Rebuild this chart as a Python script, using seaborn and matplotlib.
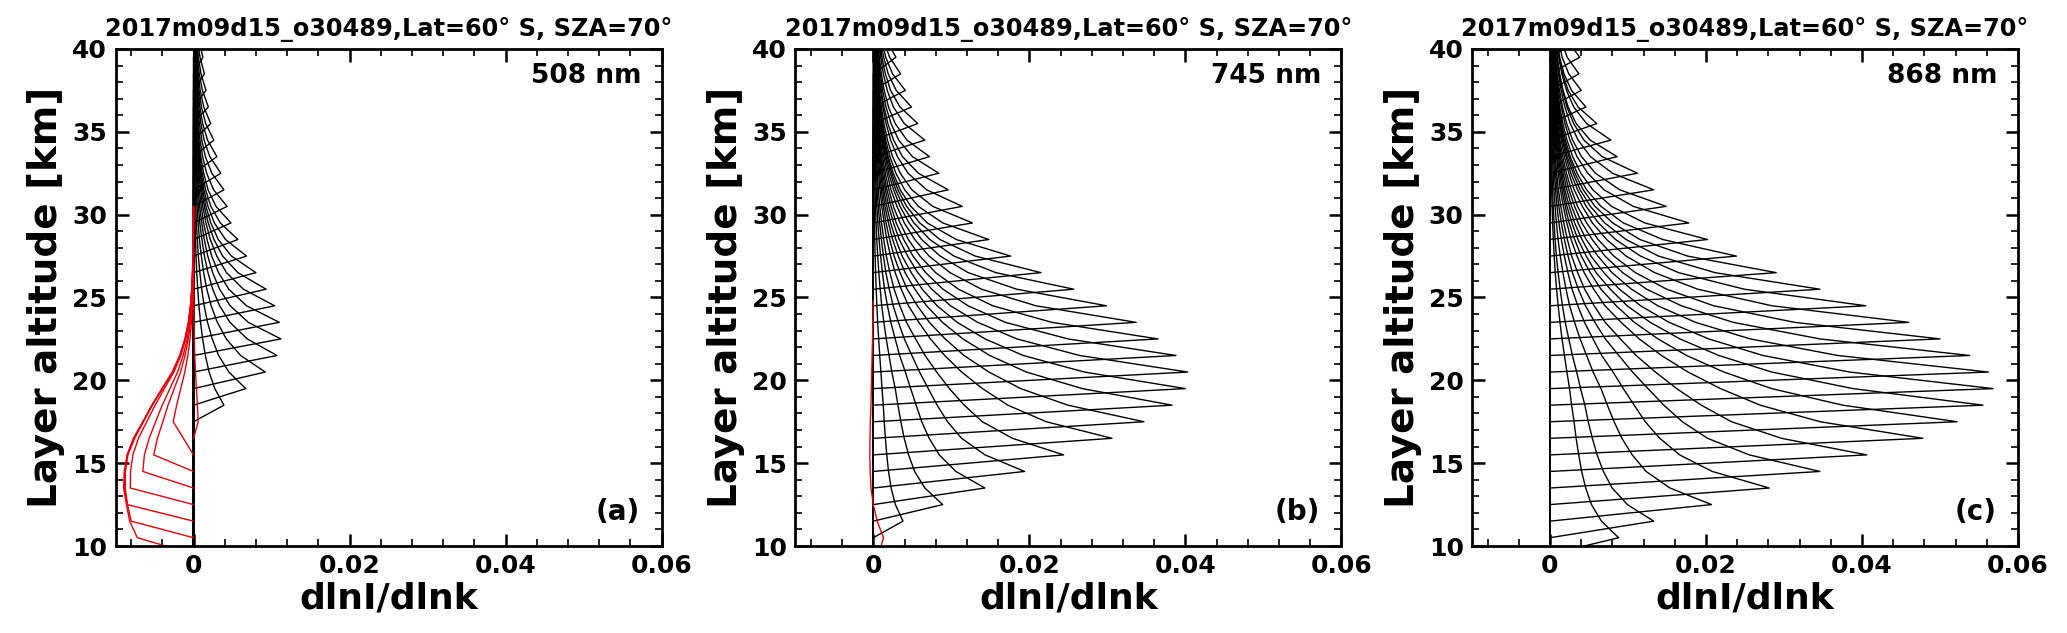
import numpy as np
import pandas as pd
import matplotlib
matplotlib.use("Agg")
import matplotlib.pyplot as plt
import seaborn as sns
from matplotlib.ticker import MultipleLocator, FixedLocator, FixedFormatter

# ---------------- data ----------------
title_text = "2017m09d15_o30489,Lat=60° S, SZA=70°"
wavelength_labels = ["508 nm", "745 nm", "868 nm"]
panel_tags = ["(a)", "(b)", "(c)"]

# layer altitude grid (km)
alt_grid = [9.5, 10.5, 11.5, 12.5, 13.5, 14.5, 15.5, 16.5, 17.5, 18.5, 19.5,
            20.5, 21.5, 22.5, 23.5, 24.5, 25.5, 26.5, 27.5, 28.5, 29.5, 30.5,
            31.5, 32.5, 33.5, 34.5, 35.5, 36.5, 37.5, 38.5, 39.5, 40.5, 41.5]

# peak (tangent-layer) altitude and peak value of every black curve
a_peak_alt = [18.5, 19.5, 20.5, 21.5, 22.5, 23.5, 24.5, 25.5, 26.5, 27.5, 28.5,
              29.5, 30.5, 31.5, 32.5, 33.5, 34.5, 35.5, 36.5, 37.5, 38.5, 39.5, 40.5]
a_peak_val = [0.0039, 0.0067, 0.0092, 0.0107, 0.0112, 0.0110, 0.0104, 0.0093,
              0.0080, 0.0068, 0.0057, 0.0048, 0.0043, 0.0039, 0.0035, 0.0030,
              0.0026, 0.0022, 0.0019, 0.0016, 0.0014, 0.0012, 0.0011]

b_peak_alt = [11.5, 12.5, 13.5, 14.5, 15.5, 16.5, 17.5, 18.5, 19.5, 20.5, 21.5,
              22.5, 23.5, 24.5, 25.5, 26.5, 27.5, 28.5, 29.5, 30.5, 31.5, 32.5,
              33.5, 34.5, 35.5, 36.5, 37.5, 38.5, 39.5, 40.5]
b_peak_val = [0.0038, 0.0089, 0.0143, 0.0194, 0.0244, 0.0306, 0.0347, 0.0383,
              0.0400, 0.0403, 0.0388, 0.0365, 0.0337, 0.0299, 0.0257, 0.0215,
              0.0176, 0.0148, 0.0127, 0.0114, 0.0096, 0.0084, 0.0072, 0.0066,
              0.0057, 0.0049, 0.0041, 0.0035, 0.0029, 0.0026]

c_peak_alt = [10.5, 11.5, 12.5, 13.5, 14.5, 15.5, 16.5, 17.5, 18.5, 19.5, 20.5,
              21.5, 22.5, 23.5, 24.5, 25.5, 26.5, 27.5, 28.5, 29.5, 30.5, 31.5,
              32.5, 33.5, 34.5, 35.5, 36.5, 37.5, 38.5, 39.5, 40.5]
c_peak_val = [0.0088, 0.0133, 0.0207, 0.0281, 0.0346, 0.0406, 0.0478, 0.0522,
              0.0555, 0.0568, 0.0562, 0.0538, 0.0500, 0.0460, 0.0405, 0.0346,
              0.0290, 0.0239, 0.0202, 0.0178, 0.0149, 0.0133, 0.0112, 0.0086,
              0.0078, 0.0060, 0.0046, 0.0040, 0.0037, 0.0038, 0.0036]

# relative fall-off of the upper branch (per km above the peak) and
# relative altitude weighting read from the fans of upper branches
arm_decay = [1.0, 0.70, 0.53, 0.43, 0.36, 0.31, 0.27, 0.24, 0.21, 0.19, 0.17,
             0.155, 0.14, 0.13, 0.12, 0.11, 0.10, 0.092, 0.085, 0.078, 0.072,
             0.066, 0.061, 0.056, 0.052, 0.048, 0.044, 0.041, 0.038, 0.035,
             0.032, 0.030, 0.028]
alt_weight = [1.0, 1.0, 1.07, 1.14, 1.21, 1.28, 1.35, 1.41, 1.46, 1.50, 1.50,
              1.45, 1.36, 1.25, 1.12, 0.99, 0.87, 0.76, 0.66, 0.57, 0.49, 0.42,
              0.36, 0.31, 0.265, 0.227, 0.195, 0.167, 0.143, 0.123, 0.105,
              0.090, 0.077]

# red (negative) curves of panel (a)
a_red_base = [9.5, 10.5, 11.5, 12.5, 13.5, 14.5, 15.5, 16.5]
a_red_peak_alt = [10.5, 11.5, 12.5, 13.5, 14.5, 15.5, 17.5, 17.5]
a_red_peak_val = [-0.0072, -0.0080, -0.0085, -0.0081, -0.0065, -0.0051,
                  -0.0026, 0.0006]
red_decay = [1.0, 0.93, 0.86, 0.80, 0.74, 0.68, 0.63, 0.58, 0.53, 0.49, 0.45,
             0.42, 0.39, 0.36, 0.33, 0.30, 0.28, 0.26, 0.24, 0.22, 0.20, 0.18,
             0.16, 0.14, 0.12, 0.10, 0.08, 0.06, 0.05, 0.04, 0.03, 0.02, 0.01]
red_weight = [0.62, 0.72, 0.88, 1.00, 1.12, 1.20, 1.25, 1.22, 1.12, 1.00, 0.82,
              0.60, 0.42, 0.28, 0.18, 0.115, 0.072, 0.045, 0.028, 0.017, 0.008,
              0.0, 0.0, 0.0, 0.0, 0.0, 0.0, 0.0, 0.0, 0.0, 0.0, 0.0, 0.0]

# red curve of panel (b)
b_red_alt = [9.5, 10.0, 10.5, 11.5, 12.5, 13.5, 14.5, 15.5, 16.5, 17.5, 18.5,
             19.5, 20.5, 21.5, 22.5, 23.5, 24.5, 24.8]
b_red_val = [0.0008, 0.0010, 0.0013, 0.0005, 0.0, -0.0003, -0.0004, -0.00045,
             -0.00042, -0.00038, -0.0003, -0.00025, -0.0002, -0.00015, -0.0001,
             -0.00005, -0.00002, 0.0]

x_ticks = [0, 0.02, 0.04, 0.06]
x_tick_labels = ["0", "0.02", "0.04", "0.06"]
y_ticks = [10, 15, 20, 25, 30, 35, 40]
y_tick_labels = ["10", "15", "20", "25", "30", "35", "40"]


# ---------------- build long tables ----------------
def curve_points(base, peak_alt, peak_val, decay, weight, from_bottom):
    idx = {z: i for i, z in enumerate(alt_grid)}
    zs = ([9.0] if from_bottom else []) + [base, peak_alt]
    vs = ([0.0] if from_bottom else []) + [0.0, peak_val]
    w0 = weight[idx[peak_alt]]
    for z in alt_grid:
        if z > peak_alt:
            d = int(round(z - peak_alt))
            zs.append(z)
            vs.append(peak_val * decay[d] * weight[idx[z]] / w0)
            if weight[idx[z]] == 0:
                break
    return zs, vs


def table(bases, peak_alt, peak_val, decay, weight, from_bottom):
    rows = []
    for k, (b, pz, pv) in enumerate(zip(bases, peak_alt, peak_val)):
        zs, vs = curve_points(b, pz, pv, decay, weight, from_bottom)
        for j, (z, v) in enumerate(zip(zs, vs)):
            rows.append((k, j, z, v))
    return pd.DataFrame(rows, columns=["curve", "order", "z", "v"])


def black_table(peak_alt, peak_val):
    bases = [p - 1.0 for p in peak_alt]
    return table(bases, peak_alt, peak_val, arm_decay, alt_weight, True)


black_tables = [black_table(a_peak_alt, a_peak_val),
                black_table(b_peak_alt, b_peak_val),
                black_table(c_peak_alt, c_peak_val)]
red_tables = [table(a_red_base, a_red_peak_alt, a_red_peak_val,
                    red_decay, red_weight, False),
              pd.DataFrame({"curve": 0, "order": range(len(b_red_alt)),
                            "z": b_red_alt, "v": b_red_val}),
              None]

# ---------------- figure ----------------
sns.set_style("ticks")
plt.rcParams["font.family"] = ["DejaVu Sans"]
plt.rcParams.update({"text.color": "black", "axes.labelcolor": "black",
                     "xtick.color": "black", "ytick.color": "black",
                     "axes.edgecolor": "black"})

fig = plt.figure(figsize=(20.67, 6.33), dpi=100)
lefts = [115.5, 795.3, 1472.0]
W_PX, H_PX = 2067.0, 633.0
ax_w, ax_h, ax_bottom = 546.0, 497.0, 633.0 - 546.0

for i in range(3):
    ax = fig.add_axes([lefts[i] / W_PX, ax_bottom / H_PX, ax_w / W_PX, ax_h / H_PX])
    sns.lineplot(data=black_tables[i], x="v", y="z", units="curve",
                 estimator=None, sort=False, orient="y", color="black",
                 linewidth=1.0, ax=ax, legend=False)
    if red_tables[i] is not None:
        sns.lineplot(data=red_tables[i], x="v", y="z", units="curve",
                     estimator=None, sort=False, orient="y", color="#e8000b",
                     linewidth=1.0, ax=ax, legend=False)
    ax.set_xlim(-0.01, 0.06)
    ax.set_ylim(10, 40)
    ax.xaxis.set_major_locator(FixedLocator(x_ticks))
    ax.xaxis.set_major_formatter(FixedFormatter(x_tick_labels))
    ax.yaxis.set_major_locator(FixedLocator(y_ticks))
    ax.yaxis.set_major_formatter(FixedFormatter(y_tick_labels))
    ax.xaxis.set_minor_locator(MultipleLocator(0.004))
    ax.yaxis.set_minor_locator(MultipleLocator(1))
    ax.tick_params(which="both", direction="in", top=True, right=True,
                   colors="black")
    ax.tick_params(which="major", length=9, width=1.8, labelsize=18, pad=6)
    ax.tick_params(which="minor", length=5, width=1.2)
    for lab in ax.get_xticklabels() + ax.get_yticklabels():
        lab.set_fontweight("bold")
    for sp in ax.spines.values():
        sp.set_linewidth(2.0)
        sp.set_color("black")
    ax.set_xlabel("dlnI/dlnk", fontsize=26, fontweight="bold", labelpad=2,
                  color="black")
    ax.set_ylabel("Layer altitude [km]", fontsize=28, fontweight="bold",
                  labelpad=5, color="black")
    ax.set_title(title_text, fontsize=17.3, fontweight="bold", pad=9,
                 color="black")
    ax.text(0.963, 0.946, wavelength_labels[i], transform=ax.transAxes,
            ha="right", va="center", fontsize=19, fontweight="bold",
            color="black")
    ax.text(0.961, 0.068, panel_tags[i], transform=ax.transAxes,
            ha="right", va="center", fontsize=20, fontweight="bold",
            color="black")

fig.savefig("out.png", dpi=100)
